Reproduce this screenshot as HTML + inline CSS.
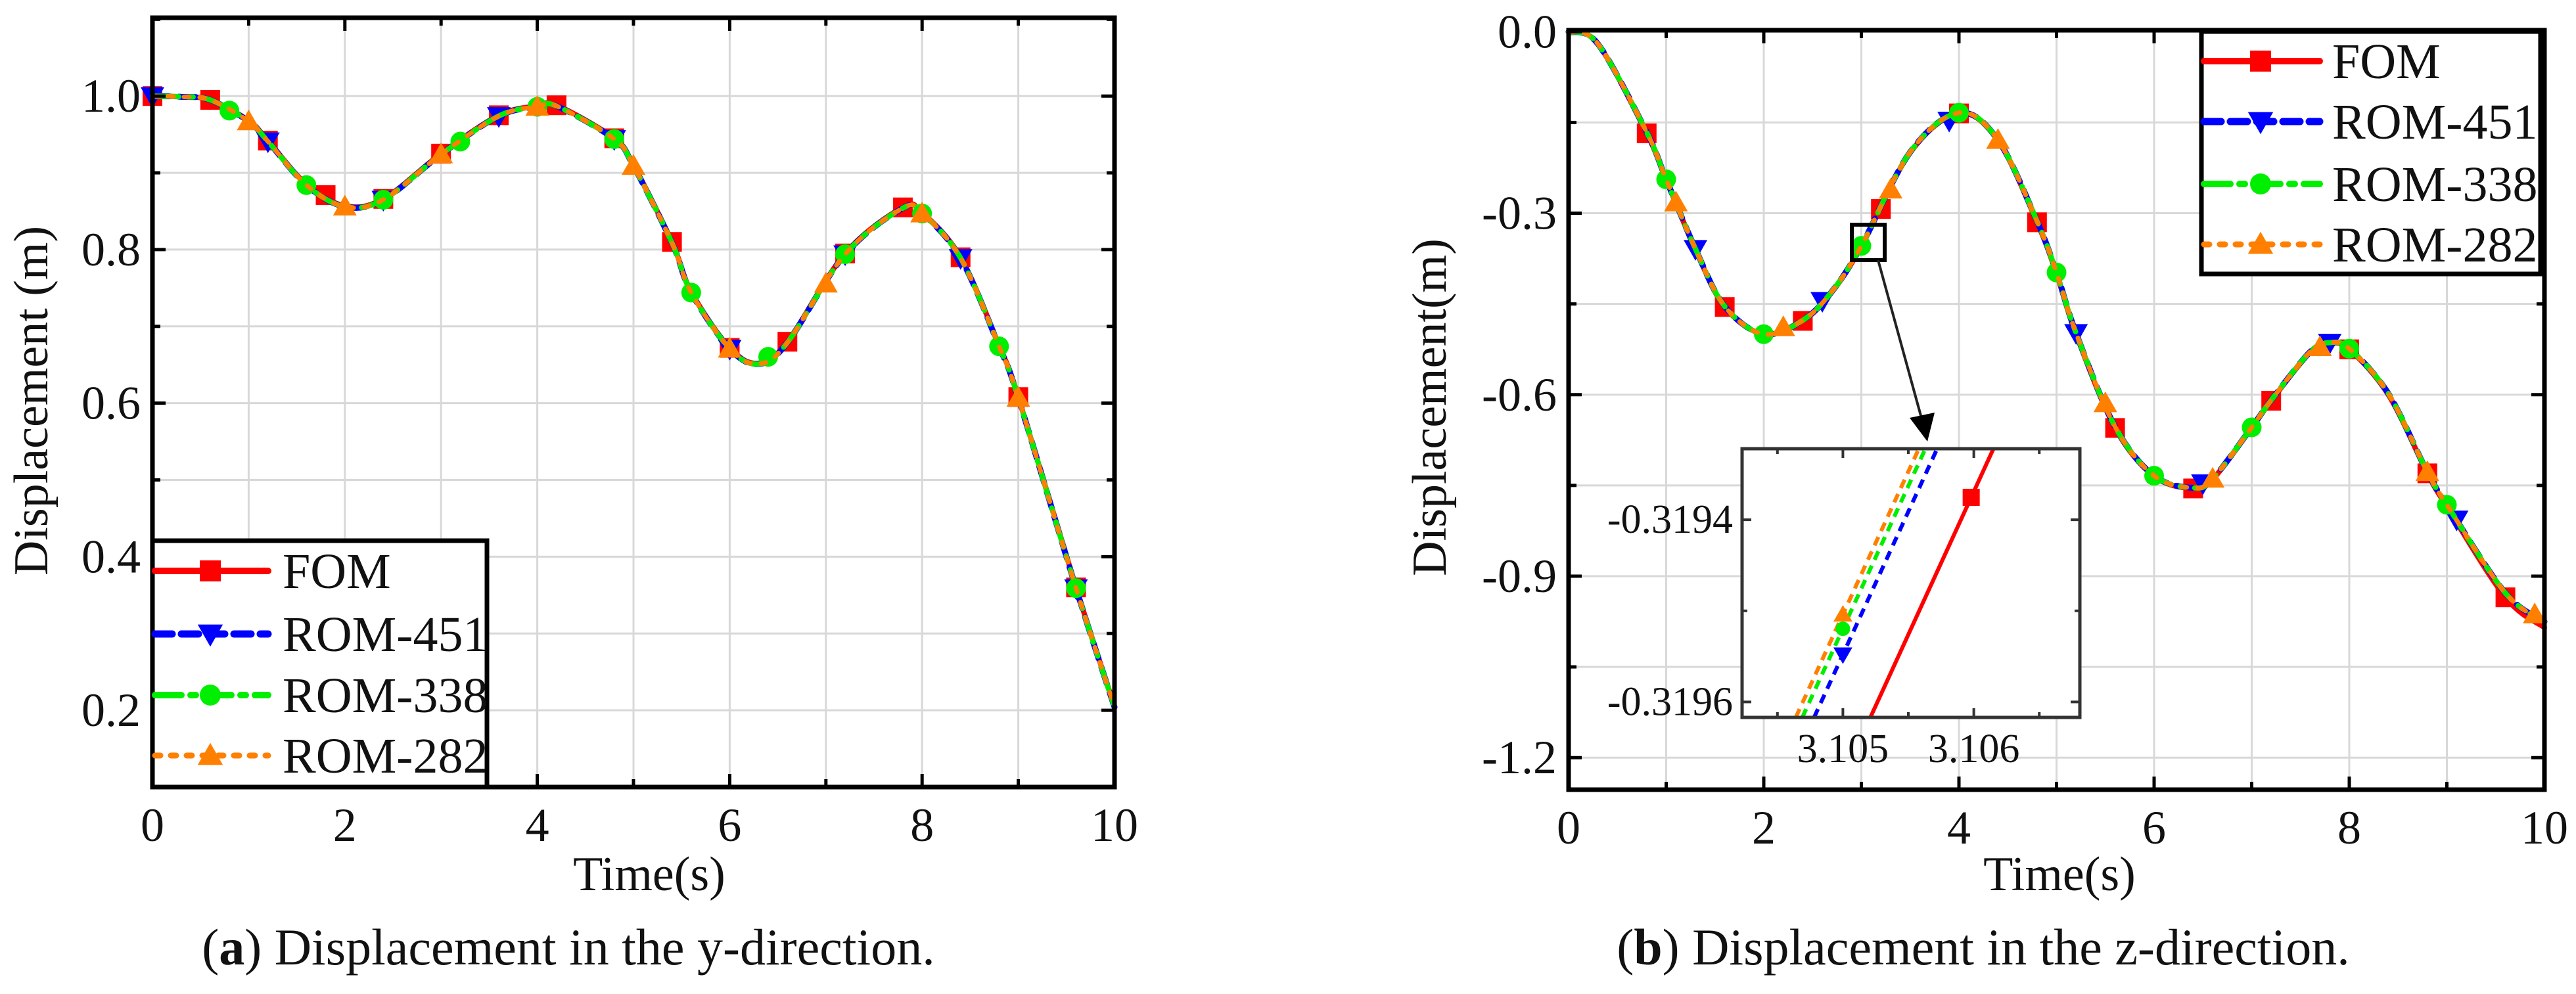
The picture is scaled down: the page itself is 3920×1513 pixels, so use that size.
<!DOCTYPE html>
<html><head><meta charset="utf-8">
<style>
html,body{margin:0;padding:0;background:#fff;}
svg{display:block;}
text{font-family:"Liberation Serif",serif;fill:#111;}
</style></head>
<body>
<svg id="fig" width="3920" height="1513" viewBox="0 0 3920 1513" xmlns="http://www.w3.org/2000/svg">
<rect width="3920" height="1513" fill="#fff"/>
</svg>
<script>
// ---------- Data: panel (a) y-direction ----------
const timeA = [0,0.3,0.6,1.0,1.2,1.6,2.0,2.4,3.0,3.6,4.0,4.2,4.8,5.0,5.4,5.6,6.0,6.3,6.6,7.2,7.8,8.0,8.4,8.8,9.0,9.6,10];
const fomA    = [1.0,0.999,0.995,0.968,0.942,0.885,0.857,0.866,0.925,0.975,0.987,0.988,0.945,0.91,0.81,0.745,0.672,0.652,0.68,0.795,0.855,0.848,0.79,0.675,0.608,0.36,0.205];
const rom451A = [1.0,0.999,0.995,0.967,0.941,0.884,0.856,0.865,0.924,0.974,0.986,0.987,0.944,0.909,0.809,0.744,0.671,0.651,0.679,0.794,0.854,0.847,0.789,0.674,0.607,0.359,0.204];
const rom338A = [1.0,0.999,0.995,0.967,0.941,0.884,0.856,0.865,0.924,0.974,0.986,0.987,0.944,0.909,0.809,0.744,0.671,0.651,0.679,0.794,0.854,0.847,0.789,0.674,0.607,0.359,0.204];
const rom282A = [1.0,0.999,0.995,0.967,0.941,0.884,0.856,0.865,0.924,0.974,0.986,0.987,0.944,0.909,0.809,0.744,0.671,0.651,0.679,0.794,0.854,0.847,0.789,0.674,0.607,0.359,0.204];
const xTicksA = [0,2,4,6,8,10];
const yTicksA = [0.2,0.4,0.6,0.8,1.0];
const yTickLabelsA = ["0.2","0.4","0.6","0.8","1.0"];

// ---------- Data: panel (b) z-direction ----------
const timeB = [0,0.3,0.8,1.0,1.3,1.6,2.0,2.4,2.7,3.0,3.5,4.0,4.4,4.8,5.0,5.2,5.6,6.0,6.4,6.6,7.0,7.2,7.6,7.8,8.0,8.4,8.8,9.0,9.6,10];
const fomB    = [0,-0.02,-0.168,-0.245,-0.36,-0.455,-0.5,-0.478,-0.43,-0.355,-0.2,-0.135,-0.18,-0.315,-0.4,-0.5,-0.655,-0.735,-0.755,-0.74,-0.655,-0.61,-0.53,-0.515,-0.525,-0.6,-0.73,-0.785,-0.935,-0.985];
const rom451B = [0,-0.02,-0.166,-0.244,-0.359,-0.454,-0.5,-0.477,-0.429,-0.354,-0.199,-0.134,-0.179,-0.313,-0.398,-0.498,-0.653,-0.734,-0.754,-0.739,-0.654,-0.609,-0.529,-0.514,-0.524,-0.598,-0.728,-0.782,-0.928,-0.975];
const rom338B = [0,-0.02,-0.166,-0.244,-0.359,-0.454,-0.5,-0.477,-0.429,-0.354,-0.199,-0.134,-0.179,-0.313,-0.398,-0.498,-0.653,-0.734,-0.754,-0.739,-0.654,-0.609,-0.529,-0.514,-0.524,-0.598,-0.728,-0.782,-0.928,-0.975];
const rom282B = [0,-0.02,-0.166,-0.244,-0.359,-0.454,-0.5,-0.477,-0.429,-0.354,-0.199,-0.134,-0.179,-0.313,-0.398,-0.498,-0.653,-0.734,-0.754,-0.739,-0.654,-0.609,-0.529,-0.514,-0.524,-0.598,-0.728,-0.782,-0.928,-0.975];
const xTicksB = [0,2,4,6,8,10];
const yTicksB = [0,-0.3,-0.6,-0.9,-1.2];
const yTickLabelsB = ["0.0","-0.3","-0.6","-0.9","-1.2"];

// ---------- Data: inset (zoom near t=3.105) ----------
const insetFomT = [3.10521,3.10615];
const insetFomY = [-0.319617,-0.319322];
const insetFomMarkT = [3.10598];
const insetRom451T = [3.10478,3.10572];
const insetRom338T = [3.10469,3.10563];
const insetRom282T = [3.10464,3.10558];
const insetRomY = [-0.319617,-0.319322];
const insetRomMarkT = [3.10500];
const insetXTicks = [3.105,3.106];
const insetXTickLabels = ["3.105","3.106"];
const insetYTicks = [-0.3194,-0.3196];
const insetYTickLabels = ["-0.3194","-0.3196"];

const NS = "http://www.w3.org/2000/svg";
const svg = document.getElementById('fig');
function el(tag, attrs, parent){
  const e = document.createElementNS(NS, tag);
  for (const k in attrs) e.setAttribute(k, attrs[k]);
  (parent||svg).appendChild(e);
  return e;
}
function lerp(ts, vs, t){
  for (let i=0;i<ts.length-1;i++){
    if (t>=ts[i] && t<=ts[i+1]){ const f=(t-ts[i])/(ts[i+1]-ts[i]); return vs[i]+f*(vs[i+1]-vs[i]); }
  }
  return vs[vs.length-1];
}
function smoothPath(pts){
  let d = 'M'+pts[0][0]+','+pts[0][1];
  for (let i=0;i<pts.length-1;i++){
    const p0=pts[Math.max(0,i-1)], p1=pts[i], p2=pts[i+1], p3=pts[Math.min(pts.length-1,i+2)];
    const c1=[p1[0]+(p2[0]-p0[0])/6, p1[1]+(p2[1]-p0[1])/6];
    const c2=[p2[0]-(p3[0]-p1[0])/6, p2[1]-(p3[1]-p1[1])/6];
    d+=' C'+c1[0]+','+c1[1]+' '+c2[0]+','+c2[1]+' '+p2[0]+','+p2[1];
  }
  return d;
}
function marker(g, type, x, y, color, s){
  let m;
  if (type==='square') m = el('rect',{x:x-s/2,y:y-s/2,width:s,height:s,fill:color},g);
  else if (type==='circle') m = el('circle',{cx:x,cy:y,r:s/2,fill:color},g);
  else if (type==='tdown') m = el('polygon',{points:(x-s*0.6)+','+(y-s*0.45)+' '+(x+s*0.6)+','+(y-s*0.45)+' '+x+','+(y+s*0.6),fill:color},g);
  else m = el('polygon',{points:(x-s*0.6)+','+(y+s*0.45)+' '+(x+s*0.6)+','+(y+s*0.45)+' '+x+','+(y-s*0.6),fill:color},g);
  
  
  return m;
}
const SERIES = [
  {name:'FOM', color:'#ff0000', dash:'', w:8, mk:'square'},
  {name:'ROM-451', color:'#0000ff', dash:'26,14', w:9, mk:'tdown'},
  {name:'ROM-338', color:'#00ee00', dash:'40,14,8,14', w:8, mk:'circle'},
  {name:'ROM-282', color:'#ff8000', dash:'8,16', w:7, mk:'tup'}
];

function panel(cfg){
  const g = el('g',{});
  
  
  const X = t => cfg.x0 + (t-cfg.xmin)/(cfg.xmax-cfg.xmin)*(cfg.x1-cfg.x0);
  const Y = v => cfg.y1 - (v-cfg.ymin)/(cfg.ymax-cfg.ymin)*(cfg.y1-cfg.y0);
  // grid
  const grid = el('g',{stroke:'#d8d8d8','stroke-width':3},g);
  
  
  for (let t=cfg.xmin+1;t<cfg.xmax;t+=1){ el('line',{x1:X(t),x2:X(t),y1:cfg.y0,y2:cfg.y1},grid); }
  for (let k=0;;k++){ const v=cfg.gridY0+k*cfg.gridStep; if (v>cfg.ymax) break; if(v<cfg.ymin) continue; el('line',{x1:cfg.x0,x2:cfg.x1,y1:Y(v),y2:Y(v)},grid); }
  // series
  cfg.series.forEach((s,i)=>{
    const st = SERIES[i];
    const sg = el('g',{},g);
    
    
    const pts = cfg.time.map((t,j)=>[X(t),Y(s[j])]);
    const p = el('path',{d:smoothPath(pts),fill:'none',stroke:st.color,'stroke-width':st.w,'stroke-dasharray':st.dash,'stroke-linecap':'round'},sg);
    
    
    cfg.markT[i].forEach(t=>{ marker(sg, st.mk, X(t), Y(lerp(cfg.time,s,t)), st.color, 30); });
  });
  // frame
  const fr = el('rect',{x:cfg.x0,y:cfg.y0,width:cfg.x1-cfg.x0,height:cfg.y1-cfg.y0,fill:'none',stroke:'#000','stroke-width':7},g);
  
  
  // ticks
  const tk = el('g',{stroke:'#000','stroke-width':5},g);
  
  
  for (let t=cfg.xmin;t<=cfg.xmax;t+=1){
    const L = (t%2===0)?20:12;
    el('line',{x1:X(t),x2:X(t),y1:cfg.y1,y2:cfg.y1-L},tk);
    el('line',{x1:X(t),x2:X(t),y1:cfg.y0,y2:cfg.y0+L},tk);
  }
  for (let k=0;;k++){ const v=cfg.gridY0+k*cfg.gridStep; if (v>cfg.ymax) break; if(v<cfg.ymin) continue;
    const L = (k%2===cfg.majorParity)?20:12;
    el('line',{x1:cfg.x0,x2:cfg.x0+L,y1:Y(v),y2:Y(v)},tk);
    el('line',{x1:cfg.x1,x2:cfg.x1-L,y1:Y(v),y2:Y(v)},tk);
  }
  // tick labels
  cfg.xTicks.forEach(t=>{
    const tx = el('text',{x:X(t),y:cfg.y1+82,'font-size':72,'text-anchor':'middle'},g);
    tx.textContent = String(t);
    
    
  });
  cfg.yTicks.forEach((v,i)=>{
    const tx = el('text',{x:cfg.x0-18,y:Y(v)+24,'font-size':72,'text-anchor':'end'},g);
    tx.textContent = cfg.yTickLabels[i];
    
    
  });
  // axis titles
  const xt = el('text',{x:cfg.xTitleX,y:1355,'font-size':74,'text-anchor':'middle'},g);
  xt.textContent='Time(s)';
  
  
  const yt = el('text',{x:0,y:0,'font-size':74,'text-anchor':'middle',transform:'translate('+cfg.yTitleX+','+cfg.yTitleY+') rotate(-90)'},g);
  yt.textContent=cfg.yTitle;
  
  
  // legend
  const lg = el('g',{},g);
  
  
  const lb = el('rect',{x:cfg.leg.x,y:cfg.leg.y,width:cfg.leg.w,height:cfg.leg.h,fill:'#fff',stroke:'#000','stroke-width':7},lg);
  
  
  SERIES.forEach((st,i)=>{
    const eg = el('g',{},lg);
    
    
    const y = cfg.leg.rows[i];
    el('line',{x1:cfg.leg.x+4,x2:cfg.leg.x+cfg.leg.lineW,y1:y,y2:y,stroke:st.color,'stroke-width':st.w+2,'stroke-dasharray':st.dash,'stroke-linecap':'round'},eg);
    marker(eg, st.mk, cfg.leg.x+cfg.leg.lineW/2, y, st.color, 32);
    const tx = el('text',{x:cfg.leg.x+cfg.leg.textX,y:y+26,'font-size':76},eg);
    tx.textContent = st.name;
  });
  return {X,Y,g};
}

// marker times
const mkA = [
  [0,0.6,1.2,1.8,2.4,3.0,3.6,4.2,4.8,5.4,6.0,6.6,7.2,7.8,8.4,9.0,9.6],
  [0,1.2,2.4,3.6,4.8,6.0,7.2,8.4,9.6],
  [0.8,1.6,2.4,3.2,4.0,4.8,5.6,6.4,7.2,8.0,8.8,9.6],
  [1,2,3,4,5,6,7,8,9]
];
const mkB = [
  [0.8,1.6,2.4,3.2,4.0,4.8,5.6,6.4,7.2,8.0,8.8,9.6],
  [1.3,2.6,3.9,5.2,6.5,7.8,9.1],
  [1,2,3,4,5,6,7,8,9],
  [1.1,2.2,3.3,4.4,5.5,6.6,7.7,8.8,9.9]
];

panel({id:'panel-a-y-direction', x0:232,x1:1696,y0:27,y1:1198, xmin:0,xmax:10, ymin:0.1,ymax:1.102,
  gridY0:0.1, gridStep:0.1, majorParity:1,
  time:timeA, series:[fomA,rom451A,rom338A,rom282A], markT:mkA,
  xTicks:xTicksA, yTicks:yTicksA, yTickLabels:yTickLabelsA,
  xTitleX:988, yTitleX:72, yTitleY:610, yTitle:'Displacement (m)',
  leg:{x:232,y:823,w:509,h:375,rows:[869,965,1058,1150],lineW:176,textX:198}});

const pb = panel({id:'panel-b-z-direction', x0:2387,x1:3872,y0:46,y1:1202, xmin:0,xmax:10, ymin:-1.253,ymax:0.0025,
  gridY0:-1.2, gridStep:0.15, majorParity:0,
  time:timeB, series:[fomB,rom451B,rom338B,rom282B], markT:mkB,
  xTicks:xTicksB, yTicks:yTicksB, yTickLabels:yTickLabelsB,
  xTitleX:3134, yTitleX:2200, yTitleY:620, yTitle:'Displacement(m)',
  leg:{x:3350,y:48,w:516,h:369,rows:[93,185,280,372],lineW:180,textX:199}});

// ---------- inset ----------
(function(){
  const ix0=2651, ix1=3165, iy0=683, iy1=1092;
  const txmin=3.10423, txmax=3.10681, tymin=-0.319617, tymax=-0.319322;
  const IX = t => ix0 + (t-txmin)/(txmax-txmin)*(ix1-ix0);
  const IY = v => iy1 - (v-tymin)/(tymax-tymin)*(iy1-iy0);
  const g = el('g',{});
  
  
  el('rect',{x:ix0,y:iy0,width:ix1-ix0,height:iy1-iy0,fill:'#fff'},g);
  const clip = el('clipPath',{id:'insetclip'},g);
  el('rect',{x:ix0,y:iy0,width:ix1-ix0,height:iy1-iy0},clip);
  const lines = el('g',{'clip-path':'url(#insetclip)'},g);
  const sets = [[insetFomT,1],[insetRom451T,2],[insetRom338T,3],[insetRom282T,4]];
  [[insetRom282T,3],[insetRom338T,2],[insetRom451T,1],[insetFomT,0]].forEach(([ts,i])=>{
    const st = SERIES[i];
    const ys = (i===0)?insetFomY:insetRomY;
    const l = el('line',{x1:IX(ts[0]),y1:IY(ys[0]),x2:IX(ts[1]),y2:IY(ys[1]),stroke:st.color,'stroke-width':6,'stroke-dasharray':st.dash?'14,10':''},lines);
    
    
  });
  marker(g,'square',IX(insetFomMarkT[0]),IY(lerp(insetFomT,insetFomY,insetFomMarkT[0])),'#ff0000',26);
  marker(g,'tup',IX(insetRomMarkT[0]),IY(lerp(insetRom282T,insetRomY,insetRomMarkT[0])),'#ff8000',24);
  marker(g,'circle',IX(insetRomMarkT[0]),IY(lerp(insetRom338T,insetRomY,insetRomMarkT[0])),'#00ee00',22);
  marker(g,'tdown',IX(insetRomMarkT[0]),IY(lerp(insetRom451T,insetRomY,insetRomMarkT[0])),'#0000ff',24);
  const fr = el('rect',{x:ix0,y:iy0,width:ix1-ix0,height:iy1-iy0,fill:'none',stroke:'#333','stroke-width':5},g);
  
  
  const tk = el('g',{stroke:'#333','stroke-width':4},g);
  for (let k=-2;k<=3;k++){ const t=3.105+k*0.0005; const x=IX(t); if(x<ix0||x>ix1) continue; const L=(k%2===0)?14:8;
    el('line',{x1:x,x2:x,y1:iy1,y2:iy1-L},tk); el('line',{x1:x,x2:x,y1:iy0,y2:iy0+L},tk); }
  [-0.3194,-0.3195,-0.3196].forEach((v,k)=>{ const y=IY(v); const L=(k%2===0)?14:8;
    el('line',{x1:ix0,x2:ix0+L,y1:y,y2:y},tk); el('line',{x1:ix1,x2:ix1-L,y1:y,y2:y},tk); });
  insetXTicks.forEach((t,i)=>{
    const tx = el('text',{x:IX(t),y:iy1+68,'font-size':62,'text-anchor':'middle'},g);
    tx.textContent = insetXTickLabels[i];
    
    
  });
  insetYTicks.forEach((v,i)=>{
    const tx = el('text',{x:ix0-14,y:IY(v)+20,'font-size':62,'text-anchor':'end'},g);
    tx.textContent = insetYTickLabels[i];
    
    
  });
  // zoom box + arrow on main plot
  const bx = el('rect',{x:2818,y:342,width:50,height:54,fill:'none',stroke:'#000','stroke-width':6});
  
  
  const ar = el('line',{x1:2858,y1:396,x2:2925,y2:640,stroke:'#222','stroke-width':4});
  
  
  const ah = el('polygon',{points:'2933,672 2906,636 2944,628',fill:'#000'});
  
  
})();

// captions
(function(){
  const c1 = el('text',{x:865,y:1468,'font-size':78,'text-anchor':'middle'});
  c1.innerHTML = '(<tspan font-weight="bold">a</tspan>) Displacement in the y-direction.';
  
  
  const c2 = el('text',{x:3018,y:1468,'font-size':78,'text-anchor':'middle'});
  c2.innerHTML = '(<tspan font-weight="bold">b</tspan>) Displacement in the z-direction.';
  
  
})();
</script>
</body></html>
